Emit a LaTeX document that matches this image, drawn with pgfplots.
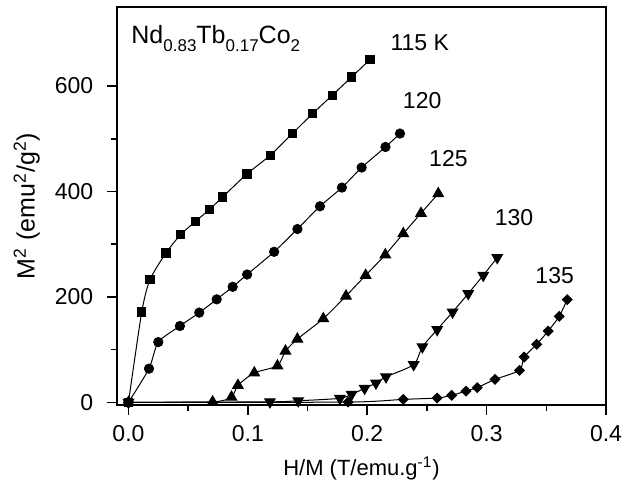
\documentclass[border=0pt]{standalone}
\usepackage{fontspec}
\setmainfont{Liberation Sans}
\usepackage{pgfplots}
\pgfplotsset{compat=1.18}
\newcommand\sub[1]{\raisebox{-0.6ex}{\fontsize{8.5}{9}\selectfont #1}}
\begin{document}
\fontsize{11}{13}\selectfont
\begin{tikzpicture}
\begin{axis}[
  scale only axis, width=244.5pt, height=199pt,
  xmin=-0.0096, xmax=0.4, ymin=-5, ymax=750,
  xtick={0,0.1,0.2,0.3,0.4}, minor x tick num=1,
  ytick={0,200,400,600}, minor y tick num=1,
  xtick pos=bottom, ytick pos=left, tick align=outside,
  major tick length=5pt, minor tick length=3pt,
  axis line style={line width=1pt},
  every tick/.style={black, line width=0.8pt},
  /pgf/number format/assume math mode=true,
  tick label style={font=\fontsize{11.5}{13}\selectfont},
  yticklabel style={xshift=-3pt},
  xticklabel style={yshift=-1.5pt, /pgf/number format/.cd, fixed, fixed zerofill, precision=1},
  xlabel style={font=\fontsize{11}{13}\selectfont},
  ylabel style={font=\fontsize{12.5}{14}\selectfont},
  xlabel={H/M (T/emu.g\textsuperscript{-1})},
  ylabel={M\textsuperscript{2} (emu\textsuperscript{2}/g\textsuperscript{2})},
  every axis plot/.append style={black, line width=0.5pt, smooth, tension=0.4},
  clip=false,
]
% 115 K
\addplot[mark=square*, mark size=2.1pt] coordinates {
(0,0) (0.0111,171.3) (0.018,232.8) (0.0314,283.3) (0.0437,318.2) (0.0563,343.5)
(0.068,366.2) (0.0789,389.6) (0.0992,433.2) (0.1188,468.7) (0.1375,510.4)
(0.1543,547.8) (0.1707,582.5) (0.187,617.3) (0.2023,650.3)};
% 120 K
\addplot[mark=*, mark size=2.3pt] coordinates {
(0,0) (0.0172,63.9) (0.025,114.4) (0.0431,144.8) (0.0593,170.2) (0.0739,195.4)
(0.0873,219.2) (0.0994,242.5) (0.122,285.6) (0.1415,328.8) (0.1604,371.9)
(0.1788,407.4) (0.1953,445.4) (0.2153,484.4) (0.2274,509.9)};
% 125 K
\addplot[mark=triangle*, mark size=3pt] coordinates {
(0,0) (0.0705,1) (0.0863,10) (0.0917,32.3) (0.1054,56) (0.1248,69.3)
(0.1315,97.3) (0.1415,120.1) (0.1632,158.8) (0.1822,201.7) (0.1987,241)
(0.2151,279.9) (0.2302,320.1) (0.245,358.6) (0.2595,396)};
% 130 K
\addplot[mark=triangle*, mark size=3pt, mark options={rotate=180}] coordinates {
(0,0) (0.1185,1) (0.1422,3) (0.1771,7.6) (0.1869,15.2) (0.1978,26.6)
(0.2073,36.6) (0.2157,48.4) (0.2389,71.5) (0.2462,105.3) (0.2586,138)
(0.2715,171.3) (0.2846,206.3) (0.2972,241) (0.3089,274.6)};
% 135 K
\addplot[mark=square*, mark size=1.7pt, mark options={rotate=45}] coordinates {
(0,0) (0.184,0.5) (0.2302,5.7) (0.2586,8.2) (0.2707,13.3) (0.2827,21.4)
(0.2921,27.9) (0.307,43.6) (0.3275,60.7) (0.3315,86) (0.3419,110)
(0.3516,135.3) (0.3608,163.2) (0.3675,194.9)};
\node[anchor=west, font=\fontsize{12.5}{14}\selectfont] at (axis cs:-0.004,690) {Nd\sub{0.83}Tb\sub{0.17}Co\sub{2}};
\node[font=\fontsize{11.5}{13}\selectfont] at (axis cs:0.244,683) {115 K};
\node[font=\fontsize{11.5}{13}\selectfont] at (axis cs:0.246,573) {120};
\node[font=\fontsize{11.5}{13}\selectfont] at (axis cs:0.268,463) {125};
\node[font=\fontsize{11.5}{13}\selectfont] at (axis cs:0.323,351) {130};
\node[font=\fontsize{11.5}{13}\selectfont] at (axis cs:0.357,241) {135};
\end{axis}
\path[use as bounding box] (-58.5pt,-42.5pt) rectangle (259.5pt,202.5pt);
\end{tikzpicture}
\end{document}
